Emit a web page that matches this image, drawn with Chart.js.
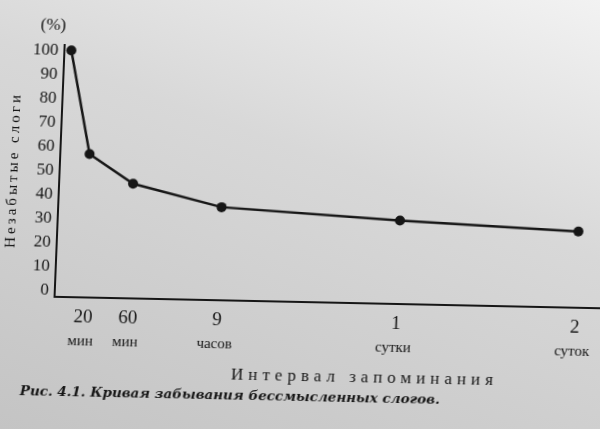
<!DOCTYPE html>
<html>
<head>
<meta charset="utf-8">
<script src="https://cdn.jsdelivr.net/npm/chart.js@4"></script>
<style>
  html, body { margin: 0; padding: 0; }
  body {
    width: 600px;
    height: 429px;
    overflow: hidden;
    background: linear-gradient(200deg, #f2f2f2 0%, #d8d8d8 40%, #c4c4c4 100%);
  }
  /* the page was photographed a little askew */
  canvas {
    display: block;
    transform-origin: 300px 214.5px;
    transform: rotate(1.2deg) skewX(-1.1deg);
  }
</style>
</head>
<body>
<canvas id="curve" width="610" height="429"></canvas>
<script>
"use strict";

// where each interval sits on the (schematic) time axis
var positions = [0, 1, 3, 7, 15, 23];
var tickNumbers = ["", "20", "60", "9", "1", "2"];
var tickUnits = ["", "мин", "мин", "часов", "сутки", "суток"];
// % of syllables still remembered
var retained = [100, 57, 45, 36, 32, 29];
var yTicks = [0, 10, 20, 30, 40, 50, 60, 70, 80, 90, 100];

var ink = "#161616";
var serif = '"Liberation Serif", "DejaVu Serif", serif';

// texts the axes can't do: two-line x labels, (%), axis titles, caption
var paperText = {
  id: "paperText",
  afterDraw: function (chart) {
    var ctx = chart.ctx;
    var xs = chart.scales.x;
    var area = chart.chartArea;
    ctx.save();
    ctx.fillStyle = ink;
    ctx.textAlign = "center";
    ctx.textBaseline = "middle";

    positions.forEach(function (p, i) {
      if (!tickNumbers[i]) return;
      var px = xs.getPixelForValue(p);
      ctx.font = "19px " + serif;
      ctx.fillText(tickNumbers[i], px, area.bottom + 20);
      ctx.font = "15px " + serif;
      ctx.fillText(tickUnits[i], px - 2, area.bottom + 44);
    });

    // (%)
    ctx.font = "17px " + serif;
    ctx.fillText("(%)", 46, 31);

    // y title
    ctx.save();
    ctx.translate(12, 176);
    ctx.rotate(-Math.PI / 2);
    ctx.font = "15px " + serif;
    ctx.letterSpacing = "3px";
    ctx.fillText("Незабытые слоги", 0, 0);
    ctx.restore();

    // x title
    ctx.font = "17px " + serif;
    ctx.letterSpacing = "5px";
    ctx.fillText("Интервал запоминания", 371, 377);

    // caption
    ctx.letterSpacing = "0px";
    ctx.textAlign = "left";
    ctx.font = 'italic bold 13.5px "DejaVu Serif", serif';
    ctx.fillText("Рис. 4.1. Кривая забывания бессмысленных слогов.", 27, 397);
    ctx.restore();
  }
};

var el = document.getElementById("curve");

new Chart(el, {
  type: "line",
  data: {
    datasets: [{
      data: positions.map(function (p, i) { return { x: p, y: retained[i] }; }),
      borderColor: ink,
      borderWidth: 2.5,
      pointRadius: 5,
      pointBackgroundColor: ink,
      pointBorderColor: ink,
      pointBorderWidth: 0,
      tension: 0,
      clip: false
    }]
  },
  options: {
    responsive: false,
    animation: false,
    events: [],
    layout: { autoPadding: false, padding: { top: 50, left: 0, right: 0, bottom: 0 } },
    plugins: {
      legend: { display: false },
      tooltip: { enabled: false }
    },
    scales: {
      x: {
        type: "linear",
        min: -0.31,
        max: 24.39,
        grid: { display: false, drawTicks: false },
        border: { display: true, color: ink, width: 2 },
        ticks: { display: false },
        afterFit: function (scale) {
          scale.height = 127;
          scale.paddingLeft = 0;
          scale.paddingRight = 0;
        }
      },
      y: {
        min: -2.8,
        max: 102.2,
        grid: { display: false, drawTicks: false },
        border: { display: true, color: ink, width: 2 },
        afterBuildTicks: function (scale) {
          scale.ticks = yTicks.map(function (v) { return { value: v }; });
        },
        ticks: {
          padding: 6,
          color: ink,
          font: { family: serif, size: 17 }
        },
        afterFit: function (scale) {
          scale.width = 58;
        }
      }
    }
  },
  plugins: [paperText]
});
</script>
</body>
</html>
